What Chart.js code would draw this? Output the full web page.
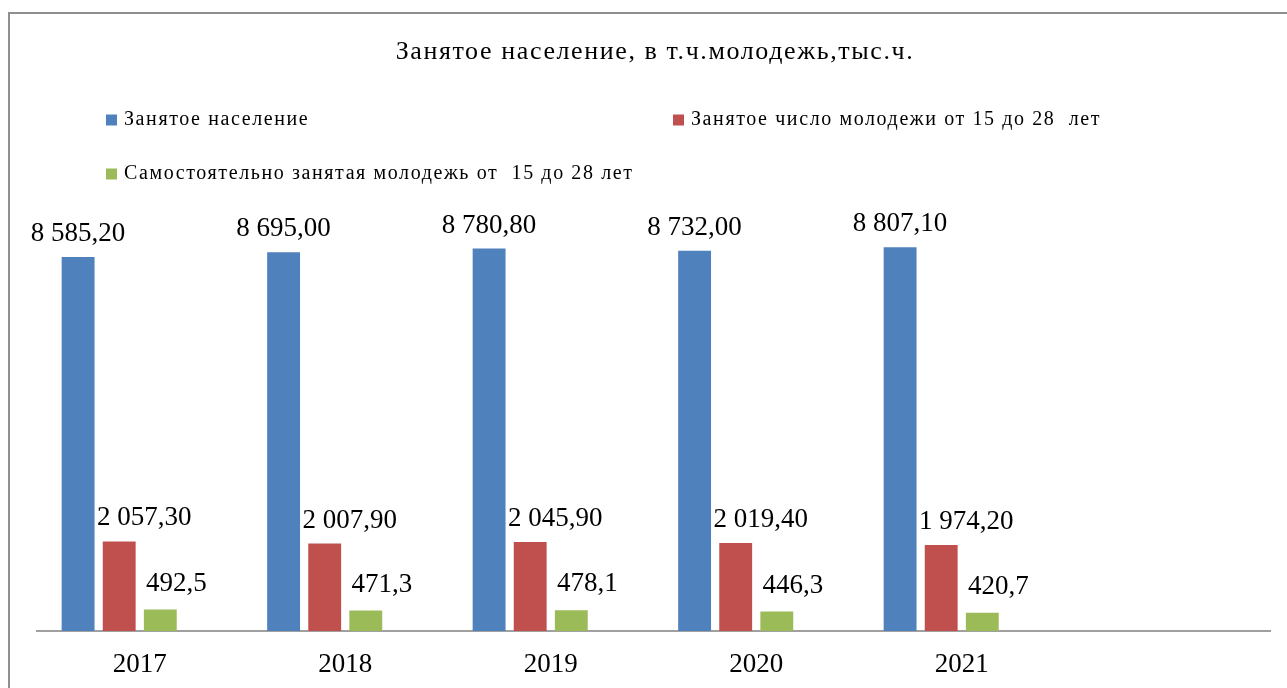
<!DOCTYPE html>
<html>
<head>
<meta charset="utf-8">
<script src="https://cdn.jsdelivr.net/npm/chart.js@4"></script>
<style>
  html, body { margin: 0; padding: 0; background: #fff; }
  #frame {
    position: absolute; left: 8px; top: 12px;
    border-top: 2px solid #8f8f8f; border-left: 2px solid #8f8f8f;
  }
  canvas { display: block; }
</style>
</head>
<body>
<div id="frame"><canvas id="plot" width="1277" height="674"></canvas></div>
<script>
const years = ['2017', '2018', '2019', '2020', '2021', ''];
const employed = [8585.2, 8695.0, 8780.8, 8732.0, 8807.1, null];
const youthEmployed = [2057.3, 2007.9, 2045.9, 2019.4, 1974.2, null];
const youthSelfEmployed = [492.5, 471.3, 478.1, 446.3, 420.7, null];
const seriesNames = [
  'Занятое население',
  'Занятое число молодежи от 15 до 28  лет',
  'Самостоятельно занятая молодежь от  15 до 28 лет'
];
const titleText = 'Занятое население, в т.ч.молодежь,тыс.ч.';

const colors = ['#4F81BD', '#C0504D', '#9BBB59'];
const decimals = [2, 2, 1];
const serif = "'Liberation Serif', 'Times New Roman', serif";

// where each legend item sits (canvas px)
const legendPos = [
  { x: 96, y: 106 },
  { x: 663, y: 106 },
  { x: 96, y: 160 }
];
// data label offsets relative to bar top centre
const labelShift = [
  { dx: 0, dy: 23 },
  { dx: 25, dy: 23 },
  { dx: 16, dy: 26 }
];

function fmt(v, d) {
  let s = v.toFixed(d).split('.');
  let int = s[0].replace(/\B(?=(\d{3})+(?!\d))/g, ' ');
  return d ? int + ',' + s[1] : int;
}

const valueLabels = {
  id: 'valueLabels',
  afterDatasetsDraw(chart) {
    const ctx = chart.ctx;
    ctx.save();
    ctx.font = '27px ' + serif;
    ctx.fillStyle = '#000';
    ctx.textAlign = 'center';
    ctx.textBaseline = 'middle';
    chart.data.datasets.forEach((ds, i) => {
      if (i > 2) return;
      const meta = chart.getDatasetMeta(i);
      meta.data.forEach((bar, j) => {
        const v = ds.data[j];
        if (v == null) return;
        ctx.fillText(fmt(v, decimals[i]), bar.x + labelShift[i].dx, bar.y - labelShift[i].dy);
      });
    });
    ctx.restore();
  }
};

// title + legend, spaced out like the Excel original
const headerBlock = {
  id: 'headerBlock',
  afterDraw(chart) {
    const ctx = chart.ctx;
    ctx.save();
    ctx.fillStyle = '#000';
    ctx.textBaseline = 'middle';
    ctx.letterSpacing = '1.6px';
    ctx.font = '26px ' + serif;
    ctx.textAlign = 'center';
    ctx.fillText(titleText, 645, 38);

    ctx.font = '20px ' + serif;
    ctx.textAlign = 'left';
    seriesNames.forEach((name, i) => {
      const p = legendPos[i];
      ctx.fillStyle = colors[i];
      ctx.fillRect(p.x, p.y - 5.5, 11, 11);
      ctx.fillStyle = '#000';
      ctx.fillText(name, p.x + 18, p.y);
    });
    ctx.restore();
  }
};

const data = {
  labels: years,
  datasets: [
    { label: seriesNames[0], data: employed, backgroundColor: colors[0] },
    { label: seriesNames[1], data: youthEmployed, backgroundColor: colors[1] },
    { label: seriesNames[2], data: youthSelfEmployed, backgroundColor: colors[2] },
    // empty fourth series keeps the Excel-style slot to the right
    { label: '', data: [null, null, null, null, null, null], backgroundColor: 'transparent' }
  ]
};

const myChart = new Chart(document.getElementById('plot'), {
  type: 'bar',
  data: data,
  options: {
    responsive: false,
    animation: false,
    datasets: {
      bar: { categoryPercentage: 0.8, barPercentage: 0.8 }
    },
    layout: { padding: { left: 27, right: 17, top: 181.4, bottom: 0 } },
    plugins: {
      legend: { display: false },
      tooltip: { enabled: false },
      title: { display: false }
    },
    scales: {
      y: { display: false, min: 0, max: 10000 },
      x: {
        grid: { display: false, drawTicks: false },
        border: { display: true, color: '#a0a0a0', width: 2 },
        afterFit: (s) => { s.height = 57; },
        ticks: {
          color: '#000',
          padding: 18,
          font: { family: serif, size: 27 }
        }
      }
    }
  },
  plugins: [valueLabels, headerBlock]
});
</script>
</body>
</html>
